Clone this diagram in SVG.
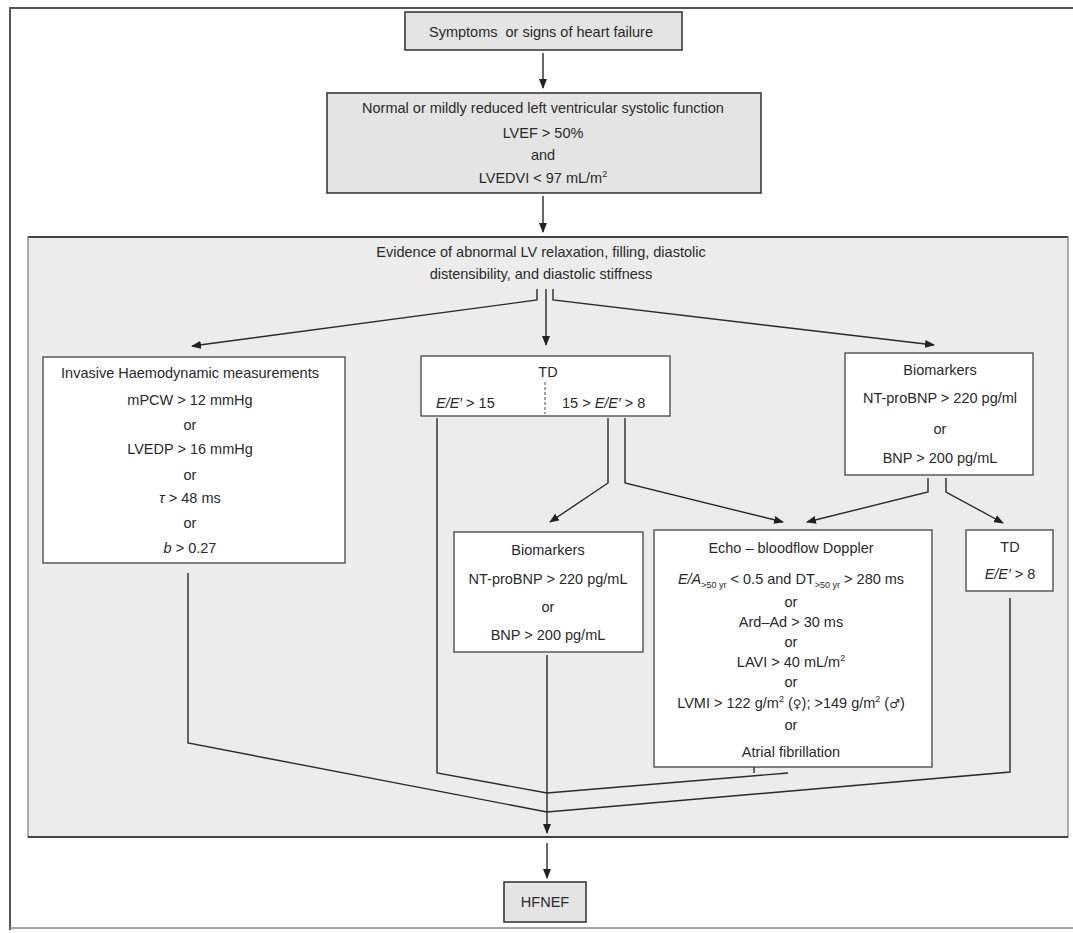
<svg xmlns="http://www.w3.org/2000/svg" width="1073" height="933" viewBox="0 0 1073 933">
<defs>
<marker id="ah" markerUnits="userSpaceOnUse" markerWidth="10" markerHeight="8" refX="9" refY="4" orient="auto">
<path d="M0,0 L10,4 L0,8 Z" fill="#222"/>
</marker>
<style>
text{font-family:"Liberation Sans",Arial,sans-serif;font-size:14.5px;fill:#2a2a2a;text-anchor:middle}
.l{text-anchor:start}
.i{font-style:italic}
.sub{font-size:9px}
.gbox{fill:#e4e4e4;stroke:#3a3a3a;stroke-width:1.6}
.wbox{fill:#ffffff;stroke:#444;stroke-width:1.3}
.c{fill:none;stroke:#2a2a2a;stroke-width:1.4}
.ca{fill:none;stroke:#2a2a2a;stroke-width:1.4;marker-end:url(#ah)}
.sym{font-family:"DejaVu Sans",sans-serif;font-size:12px}
</style>
</defs>
<rect x="0" y="0" width="1073" height="933" fill="#ffffff"/>
<g id="frame">
<path d="M10,930 L10,8 L1073,8" fill="none" stroke="#555" stroke-width="2"/>
<path d="M10,928 L1073,928" fill="none" stroke="#888" stroke-width="1.5"/>
</g>
<g id="panel">
<rect x="28" y="237" width="1040" height="600" fill="#ececec" stroke="#666" stroke-width="1"/>
<path d="M28,237 L1068,237 M28,837 L1068,837" stroke="#444" stroke-width="2.2"/>
<text x="541" y="257">Evidence of abnormal LV relaxation, filling, diastolic</text>
<text x="541" y="279">distensibility, and diastolic stiffness</text>
</g>
<g id="n1">
<rect class="gbox" x="405" y="12" width="277" height="38"/>
<text x="541" y="37">Symptoms&#160; or signs of heart failure</text>
</g>
<g id="n2">
<rect class="gbox" x="327" y="93" width="434" height="100"/>
<text x="543" y="113">Normal or mildly reduced left ventricular systolic function</text>
<text x="543" y="138">LVEF &gt; 50%</text>
<text x="543" y="160">and</text>
<text x="543" y="183">LVEDVI &lt; 97 mL/m<tspan font-size="9" dy="-6">2</tspan></text>
</g>
<g id="n3">
<rect class="wbox" x="43" y="357" width="302" height="206"/>
<text x="190" y="378">Invasive Haemodynamic measurements</text>
<text x="190" y="405">mPCW &gt; 12 mmHg</text>
<text x="190" y="430">or</text>
<text x="190" y="454">LVEDP &gt; 16 mmHg</text>
<text x="190" y="480">or</text>
<text x="190" y="503"><tspan class="i">τ</tspan> &gt; 48 ms</text>
<text x="190" y="528">or</text>
<text x="190" y="553"><tspan class="i">b</tspan> &gt; 0.27</text>
</g>
<g id="n4">
<rect class="wbox" x="421" y="356" width="249" height="60"/>
<text x="548" y="377">TD</text>
<text class="l" x="436" y="408"><tspan class="i">E/E′</tspan> &gt; 15</text>
<text class="l" x="562" y="408">15 &gt; <tspan class="i">E/E′</tspan> &gt; 8</text>
<path d="M545,382 L545,414" stroke="#444" stroke-width="1" stroke-dasharray="3,2"/>
</g>
<g id="n5">
<rect class="wbox" x="845" y="353" width="188" height="122"/>
<text x="940" y="375">Biomarkers</text>
<text x="940" y="403">NT-proBNP &gt; 220 pg/ml</text>
<text x="940" y="434">or</text>
<text x="940" y="463">BNP &gt; 200 pg/mL</text>
</g>
<g id="n6">
<rect class="wbox" x="454" y="532" width="189" height="120"/>
<text x="548" y="555">Biomarkers</text>
<text x="548" y="584">NT-proBNP &gt; 220 pg/mL</text>
<text x="548" y="612">or</text>
<text x="548" y="640">BNP &gt; 200 pg/mL</text>
</g>
<g id="n7">
<rect class="wbox" x="654" y="530" width="278" height="237"/>
<text x="791" y="553">Echo – bloodflow Doppler</text>
<text x="791" y="584"><tspan class="i">E/A</tspan><tspan class="sub" dy="4">&gt;50 yr</tspan><tspan dy="-4"> &lt; 0.5 and DT</tspan><tspan class="sub" dy="4">&gt;50 yr</tspan><tspan dy="-4"> &gt; 280 ms</tspan></text>
<text x="791" y="607">or</text>
<text x="791" y="627">Ard–Ad &gt; 30 ms</text>
<text x="791" y="647">or</text>
<text x="791" y="667">LAVI &gt; 40 mL/m<tspan font-size="9" dy="-6">2</tspan></text>
<text x="791" y="687">or</text>
<text x="791" y="708">LVMI &gt; 122 g/m<tspan font-size="9" dy="-6">2</tspan><tspan dy="6"> (</tspan><tspan class="sym">♀</tspan>); &gt;149 g/m<tspan font-size="9" dy="-6">2</tspan><tspan dy="6"> (</tspan><tspan class="sym">♂</tspan>)</text>
<text x="791" y="730">or</text>
<text x="791" y="757">Atrial fibrillation</text>
</g>
<g id="n8">
<rect class="wbox" x="966" y="530" width="87" height="61"/>
<text x="1010" y="552">TD</text>
<text x="1010" y="579"><tspan class="i">E/E′</tspan> &gt; 8</text>
</g>
<g id="n9">
<rect class="gbox" x="504" y="882" width="82" height="40"/>
<text x="545" y="907">HFNEF</text>
</g>
<g id="connectors">
<path class="ca" d="M543,53 L543,88"/>
<path class="ca" d="M543,196 L543,232"/>
<path class="ca" d="M537,289 L537,300 L192,346"/>
<path class="ca" d="M546,289 L546,345"/>
<path class="ca" d="M553,289 L553,300 L934,345"/>
<path class="c" d="M437,418 L437,773 L547,793"/>
<path class="ca" d="M608,418 L608,483 L550,522"/>
<path class="ca" d="M625,418 L625,483 L783,522"/>
<path class="ca" d="M928,478 L928,492 L807,522"/>
<path class="ca" d="M946,478 L946,492 L1003,523"/>
<path class="c" d="M188,573 L188,743 L547,812"/>
<path class="ca" d="M547,655 L547,833"/>
<path class="c" d="M754,767 L754,773"/>
<path class="c" d="M788,773 L547,793"/>
<path class="c" d="M1010,598 L1010,772 L547,812"/>
<path class="ca" d="M547,843 L547,878"/>
</g>
</svg>
